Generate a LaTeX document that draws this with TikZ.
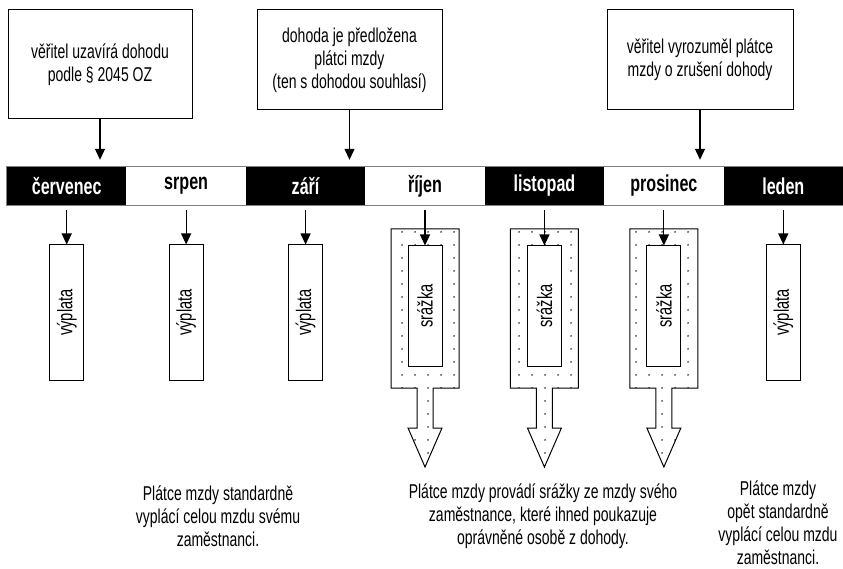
\documentclass[tikz,border=0pt]{standalone}
\usepackage{fontspec}
\usepackage{graphicx}
\setmainfont{Liberation Sans}[FakeStretch=0.7]
\usetikzlibrary{arrows.meta,patterns.meta}

\newcommand\notefont{\fontsize{20}{23}\selectfont}

\begin{document}
\begin{tikzpicture}[x=1pt,y=-1pt,
    arr/.style={-{Triangle[width=10pt,length=11pt]},line width=1.2pt},
    note/.style={draw,line width=1pt,align=center,font=\notefont,inner sep=0pt},
    month/.style={minimum width=119.43pt,minimum height=38pt,inner sep=0pt,font=\bfseries\fontsize{23}{26}\selectfont},
    pay/.style={draw,line width=1pt,fill=white,minimum width=34pt,minimum height=135pt,inner sep=0pt,font=\fontsize{21}{23}\selectfont},
    cut/.style={draw,line width=1pt,pattern={Dots[distance=13pt,radius=1pt]},pattern color=black!80},
    remark/.style={align=center,font=\notefont}]
  \useasboundingbox (0,0) rectangle (843,569);

  % boxes on top
  \node [note,minimum width=184pt,minimum height=109pt] (b1) at (100,64.5) {věřitel uzavírá dohodu\\podle § 2045 OZ};
  \node [note,minimum width=185pt,minimum height=100pt] (b2) at (349.5,60) {dohoda je předložena\\plátci mzdy\\(ten s dohodou souhlasí)};
  \node [note,minimum width=186pt,minimum height=100pt] (b3) at (700,60) {věřitel vyrozuměl plátce\\mzdy o zrušení dohody};

  % the months
  \foreach \name/\bg/\fg [count=\i] in {červenec/black/white,srpen/white/black,září/black/white,říjen/white/black,listopad/black/white,prosinec/white/black,leden/black/white}
    \node [month,fill=\bg,text=\fg] (m\i) at ({7+119.43*(\i-0.5)},186) {\name};
  \draw [gray,line width=0.8pt] (m1.north west) rectangle (m7.south east);

  \draw [arr,shorten >=7pt] (b1.south) -- (b1.south |- m1.north);
  \draw [arr,shorten >=7pt] (b2.south) -- (b2.south |- m1.north);
  \draw [arr,shorten >=7pt] (b3.south) -- (b3.south |- m1.north);

  % normal pay
  \foreach \i in {1,2,3,7} {
    \node [pay] (v\i) at (m\i |- 0,312.5) {\rotatebox{90}{výplata}};
    \draw [arr,shorten <=5pt] (m\i.south) -- (v\i.north);
  }

  % deductions
  \foreach \i in {4,5,6} {
    \pgfmathsetmacro\cx{7+119.43*(\i-0.5)}
    \draw [cut] ({\cx-34},229) -- ({\cx+34},229) -- ({\cx+34},388) -- ({\cx+8},388) -- ({\cx+8},428)
      -- ({\cx+17},428) -- (\cx,467) -- ({\cx-17},428) -- ({\cx-8},428) -- ({\cx-8},388) -- ({\cx-34},388) -- cycle;
    \node [pay,minimum height=120pt] (s\i) at (\cx,306) {\rotatebox{90}{srážka}};
    \draw [arr,shorten <=5pt] (m\i.south) -- (s\i.north);
  }

  % texts below
  \node [remark] (t1) at (218,516) {Plátce mzdy standardně\\vyplácí celou mzdu svému\\zaměstnanci.};
  \node [remark] (t2) at (543,516) {Plátce mzdy provádí srážky ze mzdy svého\\zaměstnance, které ihned poukazuje\\oprávněné osobě z dohody.};
  \node [remark] (t3) at (778,523) {Plátce mzdy\\opět standardně\\vyplácí celou mzdu\\zaměstnanci.};
\end{tikzpicture}
\end{document}
